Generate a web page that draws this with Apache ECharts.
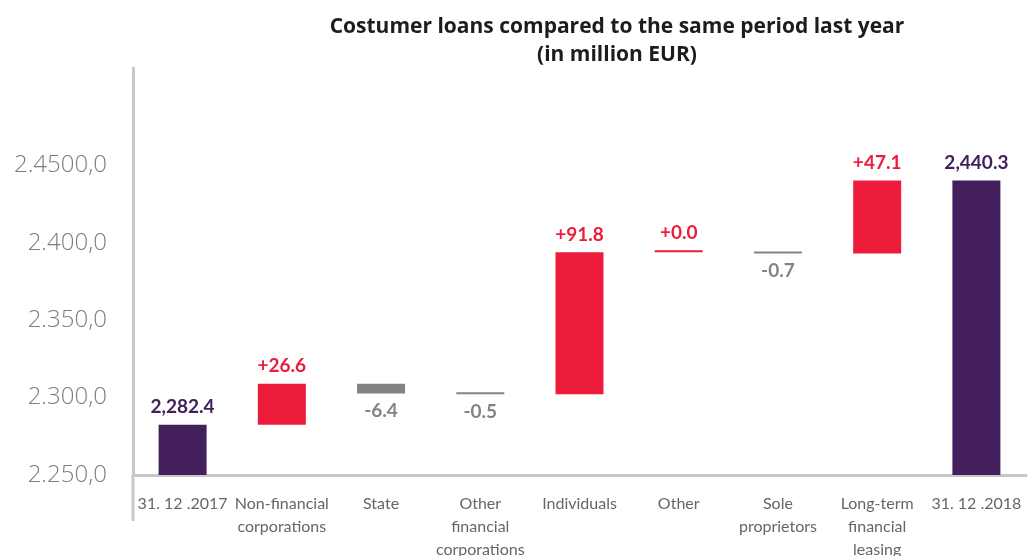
<!DOCTYPE html>
<html>
<head>
<meta charset="utf-8">
<script src="https://cdn.jsdelivr.net/npm/echarts@6/dist/echarts.min.js"></script>
<style>
  html, body { margin: 0; padding: 0; background: #ffffff; }
  #chart { width: 1036px; height: 556px; }
</style>
</head>
<body>
<div id="chart"></div>
<script>
// Customer loans waterfall, in million EUR
const categories = [
  '31. 12 .2017',
  'Non-financial\ncorporations',
  'State',
  'Other\nfinancial\ncorporations',
  'Individuals',
  'Other',
  'Sole\nproprietors',
  'Long-term\nfinancial\nleasing',
  '31. 12 .2018'
];
const startTotal = 2282.4;
const changes = [26.6, -6.4, -0.5, 91.8, 0.0, -0.7, 47.1];
const endTotal = 2440.3;

const yTickValues = [2250, 2300, 2350, 2400, 2450];
const yTickLabels = ['2.250,0', '2.300,0', '2.350,0', '2.400,0', '2.4500,0'];

const COLOR_TOTAL = '#43205c';
const COLOR_UP = '#ed1c3a';
const COLOR_DOWN = '#838383';

const fmtTotal = v => v.toLocaleString('en-US', { minimumFractionDigits: 1, maximumFractionDigits: 1 });
const fmtChange = v => (v < 0 ? '-' : '+') + Math.abs(v).toFixed(1);

// Build the floating (helper) and visible segments of the waterfall
const baseData = [];
const barData = [];
const labelFont = { fontFamily: 'Lato', fontWeight: 'bold', fontSize: 19 };

baseData.push(0);
barData.push({
  value: startTotal,
  itemStyle: { color: COLOR_TOTAL },
  label: Object.assign({ show: true, position: 'top', distance: 8, color: COLOR_TOTAL, formatter: fmtTotal(startTotal) }, labelFont)
});
let running = startTotal;
changes.forEach(d => {
  const next = Math.round((running + d) * 10) / 10;
  const up = d >= 0;
  baseData.push(Math.min(running, next));
  barData.push({
    value: Math.abs(d),
    itemStyle: { color: up ? COLOR_UP : COLOR_DOWN },
    label: Object.assign({
      show: true,
      position: up ? 'top' : 'bottom',
      distance: 8,
      color: up ? COLOR_UP : COLOR_DOWN,
      formatter: fmtChange(d)
    }, labelFont)
  });
  running = next;
});
baseData.push(0);
barData.push({
  value: endTotal,
  itemStyle: { color: COLOR_TOTAL },
  label: Object.assign({ show: true, position: 'top', distance: 8, color: COLOR_TOTAL, formatter: fmtTotal(endTotal) }, labelFont)
});

const chart = echarts.init(document.getElementById('chart'), null, { renderer: 'canvas' });
chart.setOption({
  animation: false,
  backgroundColor: '#ffffff',
  title: {
    text: 'Costumer loans compared to the same period last year\n(in million EUR)',
    left: 612,
    textAlign: 'center',
    top: 8,
    textStyle: { fontFamily: 'Open Sans', fontWeight: 'bold', fontSize: 21, color: '#1c1c1c', lineHeight: 28 }
  },
  grid: { left: 133, right: 10, top: 68, bottom: 81, containLabel: false, outerBoundsMode: 'none' },
  xAxis: {
    type: 'category',
    data: categories,
    axisLine: { lineStyle: { color: '#c8c8cc', width: 3 } },
    axisTick: { show: false },
    axisLabel: {
      interval: 0,
      margin: 17,
      color: '#666666',
      fontFamily: 'Lato',
      fontSize: 16,
      lineHeight: 23
    }
  },
  yAxis: {
    type: 'value',
    min: 2250,
    max: 2513,
    interval: 50,
    splitLine: { show: false },
    axisTick: { show: false },
    axisLine: { show: true, lineStyle: { color: '#c8c8cc', width: 3 } },
    axisLabel: {
      margin: 26,
      color: '#7d7d7d',
      fontFamily: 'Open Sans',
      fontWeight: 300,
      fontSize: 24,
      formatter: v => {
        const i = yTickValues.indexOf(v);
        return i >= 0 ? yTickLabels[i] : '';
      }
    }
  },
  series: [
    {
      type: 'bar',
      stack: 'waterfall',
      data: baseData,
      itemStyle: { color: 'transparent' },
      emphasis: { disabled: true },
      silent: true,
      barWidth: 48
    },
    {
      type: 'bar',
      stack: 'waterfall',
      data: barData,
      barWidth: 48,
      barMinHeight: 2
    }
  ],
  graphic: []
});

// Extend the value axis line a little below the category axis
const yBase = chart.convertToPixel({ yAxisIndex: 0 }, 2250);
const grid = chart.getModel().getComponent('grid').coordinateSystem.getRect();
chart.setOption({
  graphic: [{
    type: 'line',
    shape: { x1: grid.x, y1: yBase, x2: grid.x, y2: yBase + 46 },
    style: { stroke: '#c8c8cc', lineWidth: 3 },
    silent: true
  }]
});
</script>
</body>
</html>
